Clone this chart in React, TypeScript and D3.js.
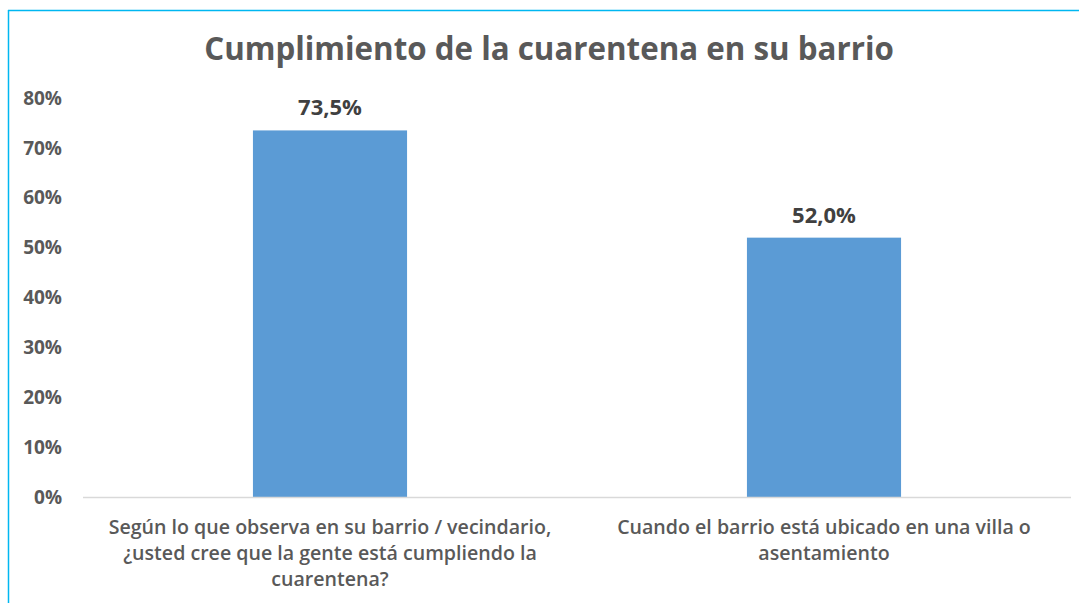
import React, { useEffect, useRef } from "react";
import * as d3 from "d3";

// chart data
const categories = [
  ["Según lo que observa en su barrio / vecindario,", "¿usted cree que la gente está cumpliendo la", "cuarentena?"],
  ["Cuando el barrio está ubicado en una villa o", "asentamiento"],
];
const values = [73.5, 52.0];
const valueLabels = ["73,5%", "52,0%"];
const yTicks = [0, 10, 20, 30, 40, 50, 60, 70, 80];
const title = "Cumplimiento de la cuarentena en su barrio";

const App = () => {
  const chartRef = useRef<SVGSVGElement>(null);

  useEffect(() => {
    const svg = d3.select(chartRef.current);
    svg.selectAll("*").remove();

    const font = "'Open Sans', sans-serif";
    const left = 83, right = 1071, top = 98, bottom = 497;

    // frame lines (cyan)
    svg.append("line").attr("x1", 8).attr("x2", 1079).attr("y1", 10.5).attr("y2", 10.5)
      .attr("stroke", "#00b7f1").attr("stroke-width", 1.5);
    svg.append("line").attr("x1", 8.5).attr("x2", 8.5).attr("y1", 10).attr("y2", 603)
      .attr("stroke", "#00b7f1").attr("stroke-width", 1.5);

    // title
    svg.append("text")
      .attr("x", 549).attr("y", 60)
      .attr("text-anchor", "middle")
      .attr("font-family", font).attr("font-weight", "bold").attr("font-size", 31.3)
      .attr("fill", "#595959")
      .text(title);

    const idx = values.map((_, i) => String(i));
    const x = d3.scaleBand().domain(idx).range([left, right]).padding(0);
    const y = d3.scaleLinear().domain([0, 80]).range([bottom, top]);
    const barW = x.bandwidth() * 0.312;

    // y tick labels
    svg.append("g").selectAll("text")
      .data(yTicks).enter().append("text")
      .attr("x", 62).attr("y", d => y(d)).attr("dy", "0.35em")
      .attr("text-anchor", "end")
      .attr("font-family", font).attr("font-weight", "bold").attr("font-size", 19)
      .attr("fill", "#595959")
      .text(d => d + "%");

    // bars
    svg.append("g").selectAll("rect")
      .data(values).enter().append("rect")
      .attr("x", (d, i) => x(String(i))! + x.bandwidth() / 2 - barW / 2)
      .attr("y", d => y(d))
      .attr("width", barW)
      .attr("height", d => bottom - y(d))
      .attr("fill", "#5b9bd5");

    // baseline
    svg.append("line").attr("x1", left).attr("x2", right).attr("y1", bottom + 0.5).attr("y2", bottom + 0.5)
      .attr("stroke", "#d9d9d9").attr("stroke-width", 1.5);

    // value labels
    svg.append("g").selectAll("text")
      .data(values).enter().append("text")
      .attr("x", (d, i) => x(String(i))! + x.bandwidth() / 2)
      .attr("y", d => y(d) - 15)
      .attr("text-anchor", "middle")
      .attr("font-family", font).attr("font-weight", "bold").attr("font-size", 22)
      .attr("fill", "#404040")
      .text((d, i) => valueLabels[i]);

    // category labels
    categories.forEach((lines, i) => {
      const t = svg.append("text")
        .attr("text-anchor", "middle")
        .attr("font-family", font).attr("font-size", 19.6).attr("font-weight", 600)
        .attr("fill", "#595959");
      lines.forEach((ln, j) => {
        t.append("tspan")
          .attr("x", x(String(i))! + x.bandwidth() / 2)
          .attr("y", 534 + j * 26)
          .text(ln);
      });
    });
  }, []);

  return (
    <svg ref={chartRef} width={1079} height={603}
      style={{ position: "absolute", left: 0, top: 0, background: "#fff" }} />
  );
};

export default App;
